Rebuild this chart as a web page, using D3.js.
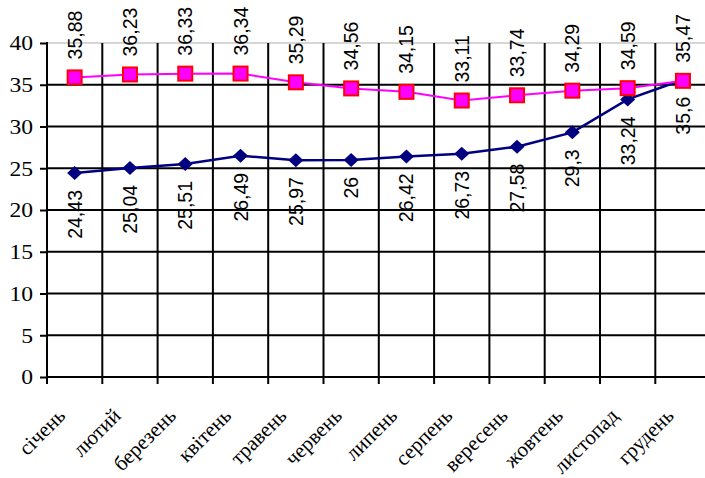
<!DOCTYPE html>
<html>
<head>
<meta charset="utf-8">
<script src="https://cdn.jsdelivr.net/npm/d3@7/dist/d3.min.js"></script>
<style>
  html, body { margin: 0; padding: 0; background: #fff; }
  svg { display: block; }
</style>
</head>
<body>
<svg id="chart" width="705" height="478"></svg>
<script>
// Місяці року
const months = ["січень", "лютий", "березень", "квітень", "травень", "червень",
                "липень", "серпень", "вересень", "жовтень", "листопад", "грудень"];
// Нижня серія (темно-синя, ромби)
const seriesLow = [24.43, 25.04, 25.51, 26.49, 25.97, 26, 26.42, 26.73, 27.58, 29.3, 33.24, 35.6];
// Верхня серія (пурпурна, квадрати)
const seriesHigh = [35.88, 36.23, 36.33, 36.34, 35.29, 34.56, 34.15, 33.11, 33.74, 34.29, 34.59, 35.47];
// Поділки осі значень
const yTicks = [0, 5, 10, 15, 20, 25, 30, 35, 40];

const svg = d3.select("#chart");
const plotL = 47, plotR = 710.6, plotT = 43, plotB = 377;

const x = d3.scaleBand().domain(months).range([plotL, plotR]).padding(0);
const y = d3.scaleLinear().domain([0, 40]).range([plotB, plotT]);
const cx = m => x(m) + x.bandwidth() / 2;
const fmt = v => String(v).replace(".", ",");

// Горизонтальна сітка
const grid = svg.append("g");
grid.selectAll("line").data(yTicks).join("line")
  .attr("x1", plotL).attr("x2", 705)
  .attr("y1", d => y(d)).attr("y2", d => y(d))
  .attr("stroke", d => d === 40 ? "#c8c8c8" : "#000")
  .attr("stroke-width", d => d === 40 ? 1.5 : 2);

// Вертикальні лінії між категоріями (з виступом нижче осі)
const bounds = months.slice(1).map(m => x(m));
svg.append("g").selectAll("line").data(bounds).join("line")
  .attr("x1", d => d).attr("x2", d => d)
  .attr("y1", plotT).attr("y2", plotB + 7)
  .attr("stroke", "#000").attr("stroke-width", 2);

// Вісь значень
const yAxis = svg.append("g")
  .attr("transform", `translate(${plotL},0)`)
  .call(d3.axisLeft(y).tickValues(yTicks).tickSize(7).tickPadding(7));
yAxis.select(".domain").remove();
yAxis.selectAll(".tick line").attr("stroke", "#000").attr("stroke-width", 2);
yAxis.selectAll(".tick text")
  .attr("font-family", "'Liberation Serif', 'Times New Roman', serif")
  .attr("font-size", 20).attr("fill", "#000")
  .attr("dy", "0.34em")
  .attr("transform", function () {
    const tx = +d3.select(this).attr("x");
    return `translate(${tx},0) scale(1.18,1) translate(${-tx},0)`;
  });
svg.append("line")
  .attr("x1", plotL).attr("x2", plotL).attr("y1", plotT - 1).attr("y2", plotB + 7)
  .attr("stroke", "#000").attr("stroke-width", 2);

// Вісь категорій
const xAxis = svg.append("g")
  .attr("transform", `translate(0,${plotB})`)
  .call(d3.axisBottom(x).tickSize(0).tickPadding(0));
xAxis.select(".domain").attr("stroke", "#000").attr("stroke-width", 2)
  .attr("d", `M${plotL},0H705`);
xAxis.selectAll(".tick text")
  .attr("font-family", "'Liberation Serif', 'Times New Roman', serif")
  .attr("font-size", 21).attr("fill", "#000")
  .attr("text-anchor", "end")
  .attr("x", 0).attr("y", 0).attr("dy", 0)
  .attr("transform", "translate(-8,40) rotate(-45)");

// Лінії серій
const line = d3.line().x((d, i) => cx(months[i])).y(d => y(d));
svg.append("path").datum(seriesLow)
  .attr("d", line).attr("fill", "none")
  .attr("stroke", "#000080").attr("stroke-width", 2.5);
svg.append("path").datum(seriesHigh)
  .attr("d", line).attr("fill", "none")
  .attr("stroke", "#ff00ff").attr("stroke-width", 2);

// Маркери: ромби
svg.append("g").selectAll("path").data(seriesLow).join("path")
  .attr("transform", (d, i) => `translate(${cx(months[i])},${y(d)})`)
  .attr("d", "M0,-7L7.5,0L0,7L-7.5,0Z")
  .attr("fill", "#000080");

// Маркери: квадрати
svg.append("g").selectAll("rect").data(seriesHigh).join("rect")
  .attr("x", (d, i) => cx(months[i]) - 7).attr("y", d => y(d) - 7)
  .attr("width", 14).attr("height", 14)
  .attr("fill", "#ff00ff").attr("stroke", "#ff0000").attr("stroke-width", 2);

// Підписи значень
const labelFont = "'Liberation Sans', Arial, sans-serif";
svg.append("g").selectAll("text").data(seriesHigh).join("text")
  .attr("transform", (d, i) => `translate(${cx(months[i])},${y(d) - 18}) rotate(-90)`)
  .attr("text-anchor", "start").attr("dy", "0.36em")
  .attr("font-family", labelFont).attr("font-size", 19.5).attr("fill", "#000")
  .text(d => fmt(d));
svg.append("g").selectAll("text").data(seriesLow).join("text")
  .attr("transform", (d, i) => `translate(${cx(months[i])},${y(d) + 17}) rotate(-90)`)
  .attr("text-anchor", "end").attr("dy", "0.36em")
  .attr("font-family", labelFont).attr("font-size", 19.5).attr("fill", "#000")
  .text(d => fmt(d));
</script>
</body>
</html>
